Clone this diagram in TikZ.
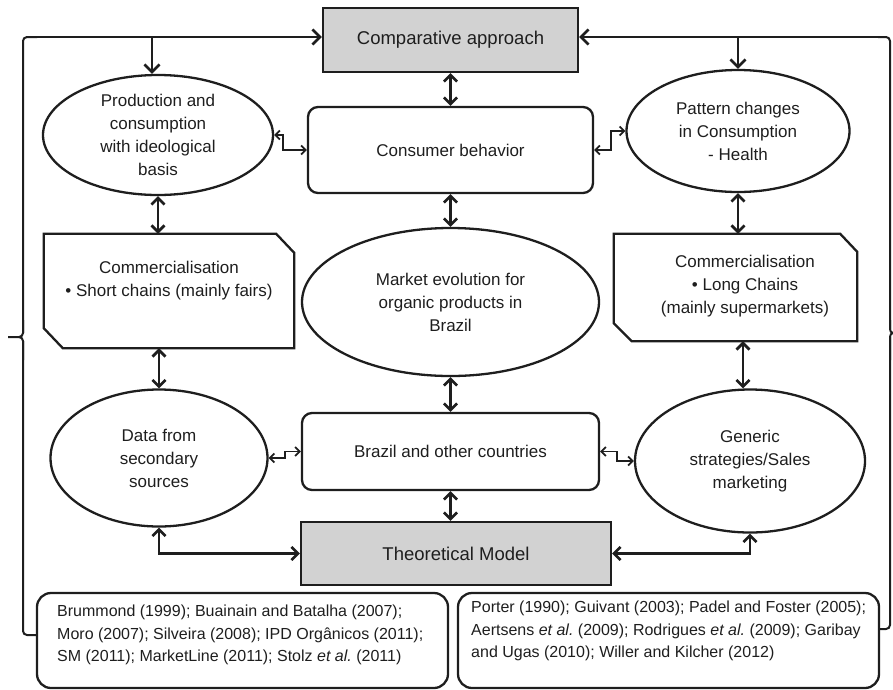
\documentclass[tikz,border=0pt]{standalone}
\usepackage{fontspec}
\setmainfont{Liberation Sans}
\usetikzlibrary{arrows.meta,shapes.geometric}
\definecolor{ink}{HTML}{1E1E1E}
\definecolor{boxgray}{HTML}{D2D2D2}
\newcommand{\etal}{{\itshape et al.}\ }
\begin{document}
\begin{tikzpicture}[x=1pt,y=-1pt,
  every node/.style={font=\fontsize{17}{23}\selectfont, align=center, text=ink, inner sep=0pt},
  ell/.style={draw=ink, ellipse, line width=2.3pt},
  rbox/.style={draw=ink, rectangle, rounded corners=10pt, line width=2.3pt},
  gbox/.style={draw=ink, rectangle, fill=boxgray, line width=2.3pt, font=\fontsize{18.5}{23}\selectfont},
  plain/.style={rectangle, draw=none},
  cutbox/.style={draw=ink, line width=2.3pt, line join=miter},
  refbox/.style={draw=ink, rectangle, rounded corners=14pt, line width=2.3pt},
  reftext/.style={font=\fontsize{16}{22.5}\selectfont, align=left, anchor=west},
  dar/.style={draw=ink, {Straight Barb[length=6.5pt,width=13pt]}-{Straight Barb[length=6.5pt,width=13pt]}, line width=2.7pt},
  sar/.style={draw=ink, {Straight Barb[length=4.5pt,width=9pt]}-{Straight Barb[length=4.5pt,width=9pt]}, line width=1.8pt},
  oar/.style={draw=ink, -{Straight Barb[length=7.5pt,width=15pt]}, line width=2.7pt},
  bline/.style={draw=ink, line width=2pt, rounded corners=4pt},
]
\useasboundingbox (0,0) rectangle (893,689);

% main nodes
\node[gbox, minimum width=255pt, minimum height=64pt] (cmp) at (450.5,40) {Comparative approach};
\node[rbox, minimum width=285pt, minimum height=86pt] (cons) at (450.5,150) {Consumer behavior};
\node[ell, minimum width=230pt, minimum height=120pt] (prod) at (158,135) {Production and\\consumption\\with ideological\\basis};
\node[ell, minimum width=223pt, minimum height=122pt] (pat) at (738,131) {Pattern changes\\in Consumption\\- Health};
\node[ell, minimum width=297pt, minimum height=148pt] (mkt) at (450.5,302) {Market evolution for\\organic products in\\Brazil};

\node[plain, minimum width=250pt, minimum height=114pt] (commL) at (169,291) {};
\draw[cutbox] (commL.north west) -- ([xshift=-18pt]commL.north east) -- ([yshift=-19pt]commL.north east)
  -- (commL.south east) -- ([xshift=19pt]commL.south west) -- ([yshift=20pt]commL.south west) -- cycle;
\node (commLt) at (169,281) {Commercialisation\\• Short chains (mainly fairs)};

\node[plain, minimum width=243pt, minimum height=107pt] (commR) at (735.5,287.5) {};
\draw[cutbox] (commR.north west) -- ([xshift=-17pt]commR.north east) -- ([yshift=-18pt]commR.north east)
  -- (commR.south east) -- ([xshift=18pt]commR.south west) -- ([yshift=18pt]commR.south west) -- cycle;
\node (commRt) at (745,286) {Commercialisation\\• Long Chains\\(mainly supermarkets)};

\node[ell, minimum width=217pt, minimum height=137pt] (data) at (159,458) {Data from\\secondary\\sources};
\node[rbox, minimum width=297pt, minimum height=77pt] (bra) at (450.5,451.5) {Brazil and other countries};
\node[ell, minimum width=230pt, minimum height=143pt] (gen) at (750,461) {Generic\\strategies/Sales\\marketing};
\node[gbox, minimum width=310pt, minimum height=63pt] (theo) at (456,553.5) {Theoretical Model};

\node[refbox, minimum width=411pt, minimum height=95pt] (refL) at (242.5,640.5) {};
\node[reftext] (refLt) at (57,635) {Brummond (1999); Buainain and Batalha (2007);\\Moro (2007); Silveira (2008); IPD Orgânicos (2011);\\SM (2011); MarketLine (2011); Stolz \etal(2011)};
\node[refbox, minimum width=421pt, minimum height=95pt] (refR) at (668.5,640.5) {};
\node[reftext] (refRt) at (471,631) {Porter (1990); Guivant (2003); Padel and Foster (2005);\\Aertsens \etal(2009); Rodrigues \etal(2009); Garibay\\and Ugas (2010); Willer and Kilcher (2012)};

% vertical double arrows
\draw[dar] (cmp.south) -- (cons.north);
\draw[dar] (cons.south) -- (mkt.north);
\draw[dar] (mkt.south) -- (bra.north);
\draw[dar] (bra.south) -- (bra.south |- theo.north);
\draw[dar] (prod.south) -- (prod.south |- commL.north);
\draw[dar] (commL.south -| data.north) -- (data.north);
\draw[dar] (pat.south) -- (pat.south |- commR.north);
\draw[dar] ([xshift=7.5pt]commR.south) -- ([xshift=-7pt]gen.north);

% thin elbow arrows
\draw[sar] (prod.east) -- ++(9,0) |- (cons.west);
\draw[sar] (cons.east) -- ++(17,0) |- (pat.west);
\draw[sar] (data.east) -- ++(16,0) |- (bra.west);
\draw[sar] (bra.east) -- ++(17,0) |- (gen.west);

% thick elbow arrows to theoretical model
\draw[dar] (data.south) |- (theo.west);
\draw[dar] (theo.east) -| (gen.south);

% top feedback lines
\coordinate (tl) at (37,37);
\coordinate (tr) at (878,37);
\coordinate (dl) at (152,37);
\coordinate (dr) at (738,37);
\draw[oar] (tl) -- ([yshift=3pt]cmp.west);
\draw[oar] (tr) -- ([yshift=3pt]cmp.east);
\draw[oar] (dl) -- (dl |- prod.north);
\draw[oar] (dr) -- (dr |- pat.north);

% left brace
\draw[bline] (tl) -- (23,37) -- (23,333);
\draw[draw=ink, line width=2pt] (23,320) -- (23,333) to[out=-90,in=0] (19,337) -- (8,337);
\draw[draw=ink, line width=2pt] (19,337) to[out=0,in=90] (23,341) -- (23,360);
\draw[bline] (23,341) -- (23,635) -- ([yshift=5.5pt]refL.west);

% right brace
\draw[bline] (tr) -- (890,37) -- (890,329);
\draw[draw=ink, line width=2pt] (890,320) -- (890,329) to[out=-90,in=180] (893,333);
\draw[draw=ink, line width=2pt] (893,333) to[out=180,in=90] (890,337) -- (890,360);
\draw[bline] (890,337) -- (890,629) -- ([yshift=11.5pt]refR.east);
\end{tikzpicture}
\end{document}
